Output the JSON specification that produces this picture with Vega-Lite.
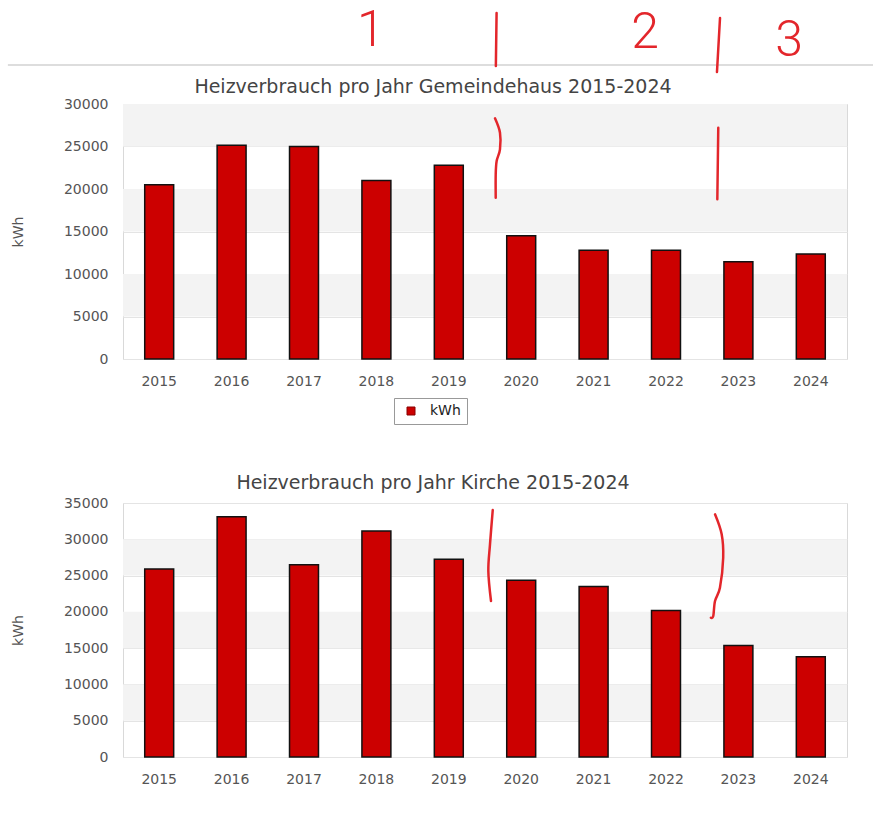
{
  "$schema": "https://vega.github.io/schema/vega-lite/v6.json",
  "padding": {"left": 6, "top": 5, "right": 0, "bottom": 0},
  "background": "white",
  "bounds": "flush",
  "spacing": 144,
  "config": {
    "font": "DejaVu Sans",
    "view": {"stroke": "#d9d9d9", "strokeWidth": 1},
    "axis": {"labelFont": "DejaVu Sans", "labelFontSize": 14, "labelColor": "#555555", "titleFont": "DejaVu Sans", "titleFontSize": 14, "titleFontWeight": "normal", "titleColor": "#555555", "ticks": false, "domain": false},
    "title": {"font": "DejaVu Sans", "fontSize": 19, "fontWeight": "normal", "color": "#444444", "anchor": "middle", "frame": "group", "dx": -52},
    "legend": {"labelFont": "DejaVu Sans", "labelFontSize": 14, "labelColor": "#222222"}
  },
  "datasets": {
    "gemeinde": [
      {"Jahr": "2015", "kWh": 20500, "Serie": "kWh"},
      {"Jahr": "2016", "kWh": 25150, "Serie": "kWh"},
      {"Jahr": "2017", "kWh": 25000, "Serie": "kWh"},
      {"Jahr": "2018", "kWh": 21000, "Serie": "kWh"},
      {"Jahr": "2019", "kWh": 22800, "Serie": "kWh"},
      {"Jahr": "2020", "kWh": 14500, "Serie": "kWh"},
      {"Jahr": "2021", "kWh": 12800, "Serie": "kWh"},
      {"Jahr": "2022", "kWh": 12800, "Serie": "kWh"},
      {"Jahr": "2023", "kWh": 11450, "Serie": "kWh"},
      {"Jahr": "2024", "kWh": 12350, "Serie": "kWh"}
    ],
    "kirche": [
      {"Jahr": "2015", "kWh": 25900, "Serie": "kWh"},
      {"Jahr": "2016", "kWh": 33100, "Serie": "kWh"},
      {"Jahr": "2017", "kWh": 26500, "Serie": "kWh"},
      {"Jahr": "2018", "kWh": 31150, "Serie": "kWh"},
      {"Jahr": "2019", "kWh": 27250, "Serie": "kWh"},
      {"Jahr": "2020", "kWh": 24350, "Serie": "kWh"},
      {"Jahr": "2021", "kWh": 23500, "Serie": "kWh"},
      {"Jahr": "2022", "kWh": 20200, "Serie": "kWh"},
      {"Jahr": "2023", "kWh": 15350, "Serie": "kWh"},
      {"Jahr": "2024", "kWh": 13800, "Serie": "kWh"}
    ],
    "bands": [
      {"lo": 5000, "hi": 10000},
      {"lo": 15000, "hi": 20000},
      {"lo": 25000, "hi": 30000}
    ],
    "strichOben": [
      {"id": "A", "i": 1, "s": 5.138, "v": 28318},
      {"id": "A", "i": 2, "s": 5.207, "v": 26624},
      {"id": "A", "i": 3, "s": 5.207, "v": 24671},
      {"id": "A", "i": 4, "s": 5.161, "v": 23294},
      {"id": "A", "i": 5, "s": 5.148, "v": 21730},
      {"id": "A", "i": 6, "s": 5.148, "v": 18977},
      {"id": "B", "i": 1, "s": 8.222, "v": 27212},
      {"id": "B", "i": 2, "s": 8.209, "v": 18788},
      {"id": "S1", "i": 1, "s": 5.16, "v": 40706},
      {"id": "S1", "i": 2, "s": 5.15, "v": 34470},
      {"id": "S2", "i": 1, "s": 8.246, "v": 40118},
      {"id": "S2", "i": 2, "s": 8.204, "v": 33765}
    ],
    "linie": [{"s": -1.59, "s2": 10.36, "v": 34588}],
    "ziffern": [
      {"t": "1", "s": 3.425, "v": 38588},
      {"t": "2", "s": 7.21, "v": 38353},
      {"t": "3", "s": 9.2, "v": 37412}
    ],
    "strichUnten": [
      {"id": "C", "i": 1, "s": 5.107, "v": 34037},
      {"id": "C", "i": 2, "s": 5.069, "v": 29310},
      {"id": "C", "i": 3, "s": 5.046, "v": 25631},
      {"id": "C", "i": 4, "s": 5.083, "v": 21497},
      {"id": "D", "i": 1, "s": 8.177, "v": 33444},
      {"id": "D", "i": 2, "s": 8.269, "v": 30688},
      {"id": "D", "i": 3, "s": 8.29, "v": 27464},
      {"id": "D", "i": 4, "s": 8.245, "v": 23330},
      {"id": "D", "i": 5, "s": 8.177, "v": 21497},
      {"id": "D", "i": 6, "s": 8.153, "v": 19430},
      {"id": "D", "i": 7, "s": 8.12, "v": 19195}
    ]
  },
  "vconcat": [
    {
      "title": {"text": "Heizverbrauch pro Jahr Gemeindehaus 2015-2024", "offset": -91},
      "width": 724,
      "height": 255,
      "resolve": {"scale": {"x": "independent"}},
      "layer": [
        {
          "data": {"name": "bands"},
          "mark": {"type": "rect", "fill": "#f3f3f3"},
          "encoding": {
            "y": {"field": "lo", "type": "quantitative", "scale": {"domain": [0, 30000]}, "axis": {"title": "kWh", "values": [0, 5000, 10000, 15000, 20000, 25000, 30000], "format": "d", "grid": true, "gridColor": "#e4e4e4", "labelPadding": 15, "titlePadding": 38}},
            "y2": {"field": "hi"}
          }
        },
        {
          "data": {"name": "gemeinde"},
          "mark": {"type": "bar", "stroke": "#111111", "strokeWidth": 1.5},
          "encoding": {
            "x": {"field": "Jahr", "type": "ordinal", "scale": {"paddingInner": 0.6, "paddingOuter": 0.3}, "axis": {"title": null, "labelAngle": 0, "labelPadding": 15, "grid": false}},
            "y": {"field": "kWh", "type": "quantitative", "scale": {"domain": [0, 30000]}, "axis": {"title": "kWh", "values": [0, 5000, 10000, 15000, 20000, 25000, 30000], "format": "d", "grid": true, "gridColor": "#e4e4e4", "labelPadding": 15, "titlePadding": 38}},
            "color": {"field": "Serie", "type": "nominal", "scale": {"range": ["#cc0000"]}, "legend": {"title": null, "orient": "none", "legendX": 271, "legendY": 294, "direction": "horizontal", "strokeColor": "#999999", "fillColor": "white", "padding": 6, "symbolType": "square", "symbolSize": 64, "symbolOffset": 4, "labelOffset": 12, "symbolStrokeColor": "#880000", "symbolStrokeWidth": 1}}
          }
        },
        {
          "data": {"name": "linie"},
          "mark": {"type": "rule", "color": "#bbbbbb", "strokeWidth": 1},
          "encoding": {
            "x": {"field": "s", "type": "quantitative", "scale": {"domain": [0, 10], "nice": false, "zero": false}, "axis": null},
            "x2": {"field": "s2"},
            "y": {"field": "v", "type": "quantitative", "scale": {"domain": [0, 30000]}, "axis": {"title": "kWh", "values": [0, 5000, 10000, 15000, 20000, 25000, 30000], "format": "d", "grid": true, "gridColor": "#e4e4e4", "labelPadding": 15, "titlePadding": 38}}
          }
        },
        {
          "data": {"name": "strichOben"},
          "mark": {"type": "line", "color": "#e3262b", "strokeWidth": 2.5, "interpolate": "cardinal", "strokeCap": "round"},
          "encoding": {
            "x": {"field": "s", "type": "quantitative", "scale": {"domain": [0, 10], "nice": false, "zero": false}, "axis": null},
            "y": {"field": "v", "type": "quantitative", "scale": {"domain": [0, 30000]}, "axis": {"title": "kWh", "values": [0, 5000, 10000, 15000, 20000, 25000, 30000], "format": "d", "grid": true, "gridColor": "#e4e4e4", "labelPadding": 15, "titlePadding": 38}},
            "detail": {"field": "id", "type": "nominal"},
            "order": {"field": "i", "type": "quantitative"}
          }
        },
        {
          "data": {"name": "ziffern"},
          "mark": {"type": "text", "color": "#e3262b", "font": "Roboto", "fontWeight": 300, "fontSize": 50, "baseline": "middle", "align": "center"},
          "encoding": {
            "x": {"field": "s", "type": "quantitative", "scale": {"domain": [0, 10], "nice": false, "zero": false}, "axis": null},
            "y": {"field": "v", "type": "quantitative", "scale": {"domain": [0, 30000]}, "axis": {"title": "kWh", "values": [0, 5000, 10000, 15000, 20000, 25000, 30000], "format": "d", "grid": true, "gridColor": "#e4e4e4", "labelPadding": 15, "titlePadding": 38}},
            "text": {"field": "t", "type": "nominal"}
          }
        }
      ]
    },
    {
      "title": {"text": "Heizverbrauch pro Jahr Kirche 2015-2024", "offset": 3},
      "width": 724,
      "height": 254,
      "resolve": {"scale": {"x": "independent"}},
      "layer": [
        {
          "data": {"name": "bands"},
          "mark": {"type": "rect", "fill": "#f3f3f3"},
          "encoding": {
            "y": {"field": "lo", "type": "quantitative", "scale": {"domain": [0, 35000]}, "axis": {"title": "kWh", "values": [0, 5000, 10000, 15000, 20000, 25000, 30000, 35000], "format": "d", "grid": true, "gridColor": "#e4e4e4", "labelPadding": 15, "titlePadding": 38}},
            "y2": {"field": "hi"}
          }
        },
        {
          "data": {"name": "kirche"},
          "mark": {"type": "bar", "stroke": "#111111", "strokeWidth": 1.5},
          "encoding": {
            "x": {"field": "Jahr", "type": "ordinal", "scale": {"paddingInner": 0.6, "paddingOuter": 0.3}, "axis": {"title": null, "labelAngle": 0, "labelPadding": 15, "grid": false}},
            "y": {"field": "kWh", "type": "quantitative", "scale": {"domain": [0, 35000]}, "axis": {"title": "kWh", "values": [0, 5000, 10000, 15000, 20000, 25000, 30000, 35000], "format": "d", "grid": true, "gridColor": "#e4e4e4", "labelPadding": 15, "titlePadding": 38}},
            "color": {"field": "Serie", "type": "nominal", "scale": {"range": ["#cc0000"]}, "legend": {"title": null, "orient": "none", "legendX": 271, "legendY": 294, "direction": "horizontal", "strokeColor": "#999999", "fillColor": "white", "padding": 6, "symbolType": "square", "symbolSize": 64, "symbolOffset": 4, "labelOffset": 12, "symbolStrokeColor": "#880000", "symbolStrokeWidth": 1}}
          }
        },
        {
          "data": {"name": "strichUnten"},
          "mark": {"type": "line", "color": "#e3262b", "strokeWidth": 2.5, "interpolate": "cardinal", "strokeCap": "round"},
          "encoding": {
            "x": {"field": "s", "type": "quantitative", "scale": {"domain": [0, 10], "nice": false, "zero": false}, "axis": null},
            "y": {"field": "v", "type": "quantitative", "scale": {"domain": [0, 35000]}, "axis": {"title": "kWh", "values": [0, 5000, 10000, 15000, 20000, 25000, 30000, 35000], "format": "d", "grid": true, "gridColor": "#e4e4e4", "labelPadding": 15, "titlePadding": 38}},
            "detail": {"field": "id", "type": "nominal"},
            "order": {"field": "i", "type": "quantitative"}
          }
        }
      ]
    }
  ]
}
